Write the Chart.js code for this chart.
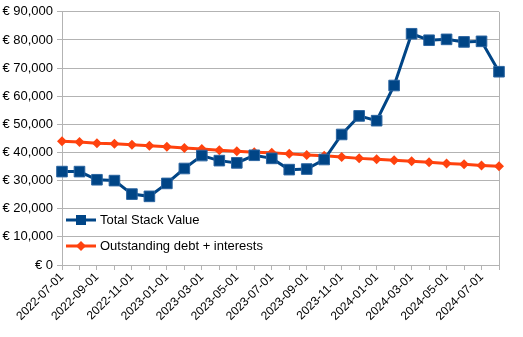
<!DOCTYPE html>
<html>
<head>
<meta charset="utf-8">
<script src="https://cdn.jsdelivr.net/npm/chart.js@4"></script>
<style>
  html, body { margin: 0; padding: 0; background: #fff; }
  #wrap { width: 523px; height: 337px; }
</style>
</head>
<body>
<div id="wrap"><canvas id="myChart" width="523" height="337"></canvas></div>
<script>
const months = [
  "2022-07-01", "2022-08-01", "2022-09-01", "2022-10-01", "2022-11-01", "2022-12-01",
  "2023-01-01", "2023-02-01", "2023-03-01", "2023-04-01", "2023-05-01", "2023-06-01",
  "2023-07-01", "2023-08-01", "2023-09-01", "2023-10-01", "2023-11-01", "2023-12-01",
  "2024-01-01", "2024-02-01", "2024-03-01", "2024-04-01", "2024-05-01", "2024-06-01",
  "2024-07-01", "2024-08-01"
];
const stackValue = [
  33200, 33200, 30300, 30000, 25200, 24400, 29000, 34300, 38900, 37100, 36300, 39000,
  37900, 33900, 34100, 37500, 46400, 53000, 51300, 63800, 82200, 79900, 80200, 79300,
  79500, 68700
];
const debtValue = [
  44000, 43700, 43300, 43100, 42700, 42400, 42000, 41600, 41200, 40800, 40400, 40100,
  39900, 39500, 39100, 38800, 38400, 37900, 37600, 37200, 36900, 36500, 36100, 35800,
  35400, 35100
];
const seriesNames = ["Total Stack Value", "Outstanding debt + interests"];
const seriesColors = ["#004586", "#ff420e"];

const fontName = "'Liberation Sans', Arial, sans-serif";
const gridColor = "#b3b3b3";

// legend drawn inside the plot, lower left
const innerLegend = {
  id: "innerLegend",
  afterDraw(chart) {
    const ctx = chart.ctx;
    const area = chart.chartArea;
    const x0 = area.left + 4;
    const rows = [area.bottom - 45, area.bottom - 19];
    ctx.save();
    chart.data.datasets.forEach((ds, i) => {
      const y = rows[i];
      ctx.strokeStyle = ds.borderColor;
      ctx.lineWidth = 3;
      ctx.beginPath();
      ctx.moveTo(x0, y);
      ctx.lineTo(x0 + 30, y);
      ctx.stroke();
      ctx.fillStyle = ds.pointBackgroundColor;
      ctx.beginPath();
      if (ds.pointStyle === "rect") {
        ctx.rect(x0 + 10, y - 5, 10, 10);
      } else {
        ctx.moveTo(x0 + 15, y - 5);
        ctx.lineTo(x0 + 20, y);
        ctx.lineTo(x0 + 15, y + 5);
        ctx.lineTo(x0 + 10, y);
        ctx.closePath();
      }
      ctx.fill();
      ctx.fillStyle = "#000";
      ctx.font = "13px " + fontName;
      ctx.textBaseline = "middle";
      ctx.textAlign = "left";
      ctx.fillText(ds.label, x0 + 34, y);
    });
    ctx.restore();
  }
};

new Chart("myChart", {
  type: "line",
  data: {
    labels: months,
    datasets: [{
      label: seriesNames[0],
      data: stackValue,
      borderColor: seriesColors[0],
      backgroundColor: seriesColors[0],
      pointBackgroundColor: seriesColors[0],
      pointBorderColor: "#2a64a0",
      pointBorderWidth: 1,
      borderWidth: 3,
      pointStyle: "rect",
      pointRadius: 7.5,
      tension: 0
    }, {
      label: seriesNames[1],
      data: debtValue,
      borderColor: seriesColors[1],
      backgroundColor: seriesColors[1],
      pointBackgroundColor: seriesColors[1],
      pointBorderColor: seriesColors[1],
      pointBorderWidth: 0,
      borderWidth: 3,
      pointStyle: "rectRot",
      pointRadius: 5,
      tension: 0
    }]
  },
  options: {
    responsive: false,
    animation: false,
    layout: { padding: { top: 10, right: 24, bottom: 0, left: 0 } },
    plugins: {
      legend: { display: false },
      tooltip: { enabled: false }
    },
    scales: {
      x: {
        afterFit(scale) { scale.height = 72; },
        grid: {
          drawOnChartArea: true,
          color: (c) => (c.index === months.length - 1 ? gridColor : "transparent"),
          tickColor: gridColor,
          tickLength: 5
        },
        border: { color: gridColor },
        ticks: {
          autoSkip: false,
          maxRotation: 45,
          minRotation: 45,
          color: "#000",
          padding: 0,
          font: { family: fontName, size: 12 },
          callback: function (v, i) { return i % 2 === 0 ? this.getLabelForValue(v) : ""; }
        }
      },
      y: {
        min: 0,
        max: 90000,
        afterFit(scale) { scale.width = 62; },
        grid: { color: gridColor, tickColor: gridColor, tickLength: 5 },
        border: { color: gridColor },
        ticks: {
          stepSize: 10000,
          color: "#000",
          padding: 4,
          font: { family: fontName, size: 13 },
          callback: (v) => "€ " + v.toLocaleString("en-US")
        }
      }
    }
  },
  plugins: [innerLegend]
});
</script>
</body>
</html>
